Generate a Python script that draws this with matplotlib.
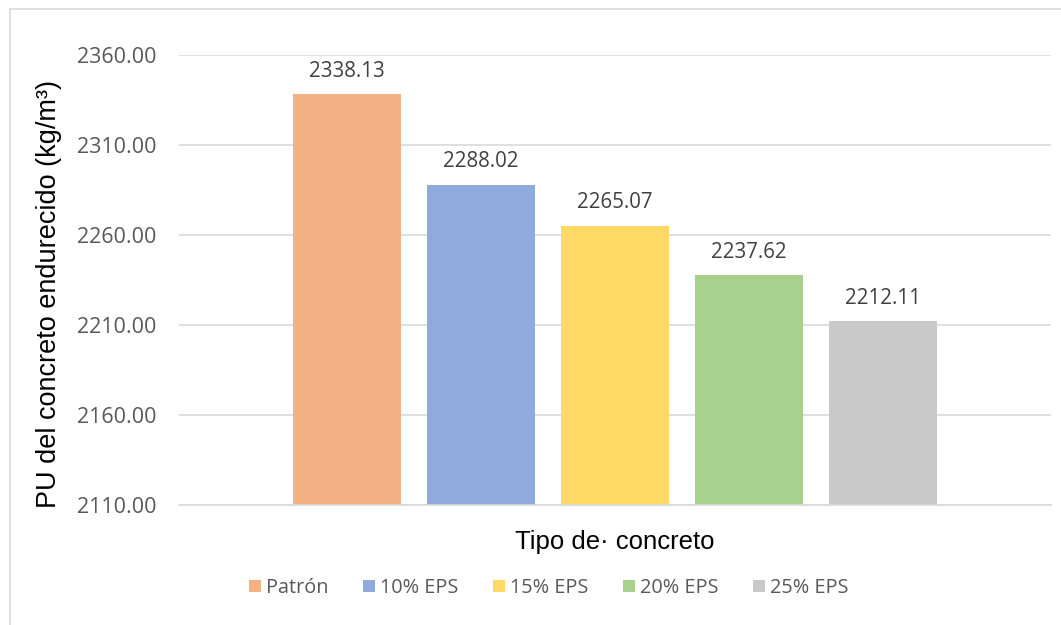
import matplotlib.pyplot as plt
from matplotlib.patches import Rectangle

# data
tipos = ['Patrón', '10% EPS', '15% EPS', '20% EPS', '25% EPS']
pu = [2338.13, 2288.02, 2265.07, 2237.62, 2212.11]
colores = ['#F4B183', '#8FAADC', '#FFD966', '#A9D18E', '#C9C9C9']
yticks = [2110, 2160, 2210, 2260, 2310, 2360]

fig = plt.figure(figsize=(10.61, 6.25), dpi=100)
ax = fig.add_axes([179 / 1061, 1 - 505 / 625, (1051 - 179) / 1061, 450 / 625])

x = list(range(len(tipos)))
bars = ax.bar(x, pu, width=0.806, color=colores, label=tipos, zorder=2)

for xi, v in zip(x, pu):
    ax.text(xi, v + 7, f'{v:.2f}', ha='center', va='bottom',
            fontsize=14.8, family='Open Sans', color='#404040')

ax.set_ylim(2110, 2360)
ax.set_xlim(-1.254, 5.254)
ax.set_yticks(yticks)
ax.set_yticklabels([f'{t:.2f}' for t in yticks], family='Open Sans',
                   fontsize=15.5, color='#595959')
ax.set_xticks([])
ax.tick_params(axis='y', length=0, pad=16.5)
ax.grid(axis='y', color='#D9D9D9', linewidth=1.2, zorder=0)
for s in ['top', 'right', 'left']:
    ax.spines[s].set_visible(False)
ax.spines['bottom'].set_color('#D9D9D9')
ax.spines['bottom'].set_linewidth(1.2)

ax.set_ylabel('PU del concreto endurecido (kg/m³)', family='Liberation Sans',
              fontsize=19.5, color='black')
ax.yaxis.set_label_coords(-0.134, 0.468)
ax.set_xlabel('Tipo de· concreto', family='Liberation Sans', fontsize=18.5,
              color='black', labelpad=18)

leg = fig.legend(handles=bars, labels=tipos, loc='center', ncol=5,
                 bbox_to_anchor=(549 / 1061, 1 - 588 / 625), frameon=False,
                 prop={'family': 'Open Sans', 'size': 14.3},
                 handlelength=0.6, handleheight=0.6, handletextpad=0.25,
                 columnspacing=1.75)
for t in leg.get_texts():
    t.set_color('#595959')

# light frame around the chart area
fig.patches.append(Rectangle((10 / 1061, -0.1), 1.2, 1 - 9 / 625 + 0.1,
                             transform=fig.transFigure, fill=False,
                             edgecolor='#D9D9D9', linewidth=1.2))

fig.savefig('out.png', dpi=100)
